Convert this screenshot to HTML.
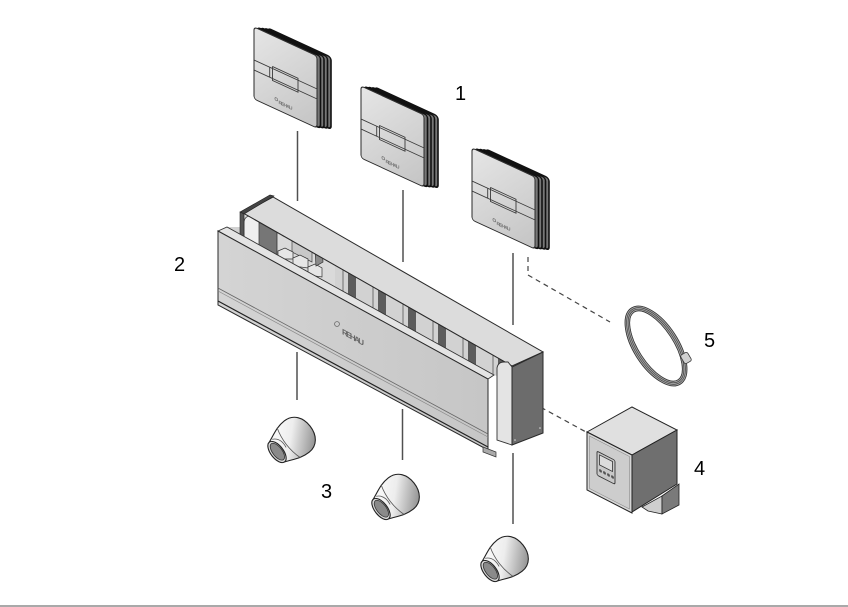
<!DOCTYPE html>
<html><head><meta charset="utf-8"><style>
html,body{margin:0;padding:0;background:#fff;}
svg{display:block;}
text{font-family:"Liberation Sans",Arial,sans-serif;}
</style></head><body>
<svg width="848" height="607" viewBox="0 0 848 607" xmlns="http://www.w3.org/2000/svg">
<defs>
<linearGradient id="tg" x1="0" y1="0" x2="1" y2="1"><stop offset="0" stop-color="#e6e6e6"/><stop offset="1" stop-color="#c4c4c4"/></linearGradient>
<linearGradient id="cg" x1="0" y1="0" x2="1" y2="1"><stop offset="0" stop-color="#ffffff"/><stop offset="0.45" stop-color="#ededed"/><stop offset="1" stop-color="#7a7a7a"/></linearGradient>
<linearGradient id="pg" x1="0" y1="0" x2="1" y2="0"><stop offset="0" stop-color="#d4d4d4"/><stop offset="1" stop-color="#c6c6c6"/></linearGradient>
<clipPath id="inner"><polygon points="243,213 512,366 512,381 494,375 227,227 243,227"/></clipPath>
<g id="cap">
 <path d="M0,-12.5 C9,-16 15,-20 25,-20 C36,-20 42,-11 42,0 C42,11 36,20 25,20 C15,20 9,16 0,12.5 Z" fill="url(#cg)" stroke="#222" stroke-width="1.1"/>
 <path d="M15,-19 C11,-7 11,7 15,19" fill="none" stroke="#555" stroke-width="0.8"/>
 <path d="M4,-13 C10,-10 11,-4 10,2" fill="none" stroke="#555" stroke-width="0.8"/>
 <ellipse cx="0" cy="0" rx="6.3" ry="12.5" fill="#d8d8d8" stroke="#222" stroke-width="1.1"/>
 <ellipse cx="0.5" cy="0" rx="4.7" ry="10" fill="#8a8a8a" stroke="#333" stroke-width="0.8"/>
</g>
</defs>

<!-- connectors -->
<g stroke="#505050" stroke-width="1.5" fill="none">
 <line x1="297.5" y1="131" x2="297.5" y2="201"/>
 <line x1="403" y1="190" x2="403" y2="262"/>
 <line x1="513" y1="253" x2="513" y2="325"/>
 <line x1="297" y1="352" x2="297" y2="400"/>
 <line x1="402.5" y1="409" x2="402.5" y2="460"/>
 <line x1="513" y1="453" x2="513" y2="524"/>
</g>
<g stroke="#444" stroke-width="1.2" fill="none" stroke-dasharray="5,4">
 <path d="M528,257 V275 L610,322"/>
 <path d="M533,403 L586,432"/>
</g>

<!-- Thermostat 1 -->
<g transform="translate(254,27)">
 <g transform="translate(14,1.2)"><rect transform="matrix(1,0.46,0,1,0,0)" width="63" height="72" rx="3" fill="#777" stroke="#111" stroke-width="1.6"/></g>
 <g transform="translate(10.5,0.9)"><rect transform="matrix(1,0.46,0,1,0,0)" width="63" height="72" rx="3" fill="#777" stroke="#111" stroke-width="1.6"/></g>
 <g transform="translate(7,0.6)"><rect transform="matrix(1,0.46,0,1,0,0)" width="63" height="72" rx="3" fill="#777" stroke="#111" stroke-width="1.6"/></g>
 <g transform="translate(3.5,0.3)"><rect transform="matrix(1,0.46,0,1,0,0)" width="63" height="72" rx="3" fill="#777" stroke="#111" stroke-width="1.6"/></g>
 <g transform="matrix(1,0.46,0,1,0,0)">
  <rect width="63" height="72" rx="3" fill="url(#tg)" stroke="#2a2a2a" stroke-width="1"/>
  <path d="M0,33H63M0,43H63M15.7,33V43M18.5,31V45H44V31H18.5" stroke="#3a3a3a" stroke-width="0.9" fill="none"/>
  <circle cx="22.3" cy="62" r="1.4" fill="none" stroke="#666" stroke-width="0.6"/>
  <text x="24.5" y="65.5" font-size="5" font-weight="bold" fill="#777" textLength="14">REHAU</text>
 </g>
</g>
<!-- Thermostat 2 -->
<g transform="translate(361,86)">
 <g transform="translate(14,1.2)"><rect transform="matrix(1,0.46,0,1,0,0)" width="63" height="72" rx="3" fill="#777" stroke="#111" stroke-width="1.6"/></g>
 <g transform="translate(10.5,0.9)"><rect transform="matrix(1,0.46,0,1,0,0)" width="63" height="72" rx="3" fill="#777" stroke="#111" stroke-width="1.6"/></g>
 <g transform="translate(7,0.6)"><rect transform="matrix(1,0.46,0,1,0,0)" width="63" height="72" rx="3" fill="#777" stroke="#111" stroke-width="1.6"/></g>
 <g transform="translate(3.5,0.3)"><rect transform="matrix(1,0.46,0,1,0,0)" width="63" height="72" rx="3" fill="#777" stroke="#111" stroke-width="1.6"/></g>
 <g transform="matrix(1,0.46,0,1,0,0)">
  <rect width="63" height="72" rx="3" fill="url(#tg)" stroke="#2a2a2a" stroke-width="1"/>
  <path d="M0,33H63M0,43H63M15.7,33V43M18.5,31V45H44V31H18.5" stroke="#3a3a3a" stroke-width="0.9" fill="none"/>
  <circle cx="22.3" cy="62" r="1.4" fill="none" stroke="#666" stroke-width="0.6"/>
  <text x="24.5" y="65.5" font-size="5" font-weight="bold" fill="#777" textLength="14">REHAU</text>
 </g>
</g>
<!-- Thermostat 3 -->
<g transform="translate(472,148)">
 <g transform="translate(14,1.2)"><rect transform="matrix(1,0.46,0,1,0,0)" width="63" height="72" rx="3" fill="#777" stroke="#111" stroke-width="1.6"/></g>
 <g transform="translate(10.5,0.9)"><rect transform="matrix(1,0.46,0,1,0,0)" width="63" height="72" rx="3" fill="#777" stroke="#111" stroke-width="1.6"/></g>
 <g transform="translate(7,0.6)"><rect transform="matrix(1,0.46,0,1,0,0)" width="63" height="72" rx="3" fill="#777" stroke="#111" stroke-width="1.6"/></g>
 <g transform="translate(3.5,0.3)"><rect transform="matrix(1,0.46,0,1,0,0)" width="63" height="72" rx="3" fill="#777" stroke="#111" stroke-width="1.6"/></g>
 <g transform="matrix(1,0.46,0,1,0,0)">
  <rect width="63" height="72" rx="3" fill="url(#tg)" stroke="#2a2a2a" stroke-width="1"/>
  <path d="M0,33H63M0,43H63M15.7,33V43M18.5,31V45H44V31H18.5" stroke="#3a3a3a" stroke-width="0.9" fill="none"/>
  <circle cx="22.3" cy="62" r="1.4" fill="none" stroke="#666" stroke-width="0.6"/>
  <text x="24.5" y="65.5" font-size="5" font-weight="bold" fill="#777" textLength="14">REHAU</text>
 </g>
</g>

<!-- Main box -->
<polygon points="243,213 273,197 543,352 512,366" fill="#dcdcdc" stroke="#2a2a2a" stroke-width="1"/>
<g clip-path="url(#inner)">
 <rect x="220" y="205" width="300" height="250" fill="#d2d2d2"/>
 <rect x="245" y="205" width="90" height="250" fill="#dadada"/>
 <g fill="#5c5c5c">
  <rect x="348" y="200" width="8" height="260"/>
  <rect x="378" y="200" width="8" height="260"/>
  <rect x="408" y="200" width="8" height="260"/>
  <rect x="438" y="200" width="8" height="260"/>
  <rect x="468" y="200" width="8" height="260"/>
  <rect x="498" y="200" width="8" height="260"/>
 </g>
 <g stroke="#555" stroke-width="0.8">
  <line x1="343" y1="200" x2="343" y2="460"/>
  <line x1="373" y1="200" x2="373" y2="460"/>
  <line x1="403" y1="200" x2="403" y2="460"/>
  <line x1="433" y1="200" x2="433" y2="460"/>
  <line x1="463" y1="200" x2="463" y2="460"/>
  <line x1="493" y1="200" x2="493" y2="460"/>
 </g>
 <path d="M257,262 V229 Q257,222 264,222 H277 V262 Z" fill="#767676" stroke="#333" stroke-width="0.8"/>
 <path d="M244,255 V223 Q244,216 251,216 H259 V255 Z" fill="#efefef" stroke="#444" stroke-width="0.8"/>
 <circle cx="285" cy="233" r="3.5" fill="#e0e0e0" stroke="#444" stroke-width="0.8"/>
 <polygon points="292,237 312,247 312,262 292,252" fill="#c8c8c8" stroke="#444" stroke-width="0.7"/>
 <polygon points="278,251 285,248 293,252 293,259 278,259" fill="#e6e6e6" stroke="#333" stroke-width="0.7"/>
 <polygon points="293,258 300,255 308,259 308,268 293,266" fill="#e6e6e6" stroke="#333" stroke-width="0.7"/>
 <polygon points="308,267 315,264 322,268 322,277 308,275" fill="#e6e6e6" stroke="#333" stroke-width="0.7"/>
 <polygon points="315,250 322,247 323,262 316,266" fill="#8a8a8a" stroke="#333" stroke-width="0.7"/>
</g>
<line x1="243" y1="213" x2="512" y2="366" stroke="#2a2a2a" stroke-width="1"/>
<polygon points="240,212 270,195 274,196 244,214" fill="#444" stroke="#222" stroke-width="0.6"/>
<polygon points="240,212 244,214 244,240 240,238" fill="#555" stroke="#222" stroke-width="0.6"/>
<path d="M497,440 V368 Q498,362 504,362 H508 L512,367 V445 Z" fill="#e4e4e4" stroke="#333" stroke-width="0.9"/>
<polygon points="512,367 543,352 543,433 512,445" fill="#6c6c6c" stroke="#2a2a2a" stroke-width="1"/>
<circle cx="540" cy="428" r="0.8" fill="#ddd"/>
<circle cx="515" cy="440" r="0.8" fill="#ddd"/>
<polygon points="218,231 227,227 494,375 488,379" fill="#e4e4e4" stroke="#333" stroke-width="0.9"/>
<polygon points="218,231 488,379 488,450 218,305" fill="url(#pg)" stroke="#2a2a2a" stroke-width="1"/>
<line x1="218" y1="288" x2="488" y2="434" stroke="#666" stroke-width="0.8"/>
<line x1="218" y1="291" x2="488" y2="437" stroke="#888" stroke-width="0.7"/>
<line x1="218" y1="301" x2="488" y2="447" stroke="#222" stroke-width="1.2"/>
<polygon points="483,447 496,452 496,457 483,452" fill="#aaa" stroke="#333" stroke-width="0.7"/>
<circle cx="337" cy="324" r="2.4" fill="none" stroke="#666" stroke-width="0.8"/>
<text transform="matrix(1,0.548,0,1,342,334)" font-size="8" font-weight="bold" fill="#666" textLength="22">REHAU</text>

<!-- Caps -->
<use href="#cap" transform="translate(277,452) rotate(-38)"/>
<use href="#cap" transform="translate(381,509) rotate(-38)"/>
<use href="#cap" transform="translate(490,571) rotate(-38)"/>

<!-- Coil -->
<g transform="translate(656,346) rotate(57)">
 <ellipse rx="42.8" ry="19.8" fill="none" stroke="#a8a8a8" stroke-width="5.5"/>
 <ellipse rx="45.3" ry="22.3" fill="none" stroke="#333" stroke-width="0.8"/>
 <ellipse rx="43.6" ry="20.6" fill="none" stroke="#444" stroke-width="0.7"/>
 <ellipse rx="42" ry="19" fill="none" stroke="#444" stroke-width="0.7"/>
 <ellipse rx="40.3" ry="17.3" fill="none" stroke="#333" stroke-width="0.8"/>
</g>
<rect x="682" y="353" width="8" height="10" rx="2" fill="#d0d0d0" stroke="#333" stroke-width="0.8" transform="rotate(-30 686 358)"/>

<!-- Control unit -->
<polygon points="587,432 632,407 677,430 632,455" fill="#e0e0e0" stroke="#222" stroke-width="1"/>
<polygon points="632,455 677,430 677,484 632,512" fill="#6f6f6f" stroke="#222" stroke-width="1"/>
<polygon points="642,507 662,496 662,514 648,511" fill="#cfcfcf" stroke="#222" stroke-width="0.8"/>
<polygon points="662,496 679,484 679,505 662,514" fill="#7a7a7a" stroke="#222" stroke-width="0.8"/>
<polygon points="587,432 632,455 632,513 587,490" fill="#d6d6d6" stroke="#222" stroke-width="1"/>
<polygon points="589.5,436 629.5,456.5 629.5,509 589.5,488.5" fill="#cdcdcd" stroke="#8a8a8a" stroke-width="0.6"/>
<g transform="matrix(1,0.51,0,1,587,432)">
 <rect x="10" y="14" width="18" height="24" rx="1.5" fill="#c8c8c8" stroke="#333" stroke-width="0.9"/>
 <rect x="12.5" y="16.5" width="13" height="10" fill="#dcdcdc" stroke="#333" stroke-width="0.8"/>
 <circle cx="13.5" cy="32" r="1.5" fill="#555"/>
 <circle cx="17.5" cy="32" r="1.5" fill="#555"/>
 <circle cx="21.5" cy="32" r="1.5" fill="#555"/>
 <circle cx="25.5" cy="32" r="1.5" fill="#555"/>
</g>

<!-- Labels -->
<g font-size="20" fill="#000">
 <text x="455" y="100">1</text>
 <text x="174" y="271">2</text>
 <text x="321" y="498">3</text>
 <text x="694" y="475">4</text>
 <text x="704" y="347">5</text>
</g>

<rect x="0" y="605" width="848" height="2" fill="#a9a9a9"/>
</svg>
</body></html>
